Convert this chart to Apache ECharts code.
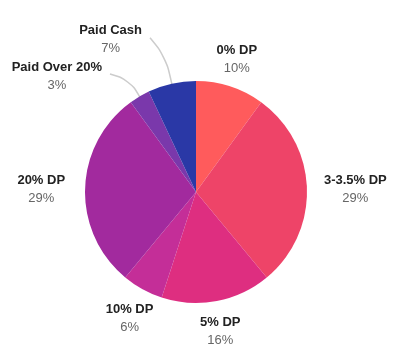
<!DOCTYPE html>
<html>
<head>
<meta charset="utf-8">
<style>html,body{margin:0;padding:0;background:#fff}#c{width:400px;height:358px}</style>
<script src="https://cdn.jsdelivr.net/npm/echarts@6/dist/echarts.min.js"></script>
</head>
<body>
<div id="c"></div>
<script>
const categories = ['0% DP', '3-3.5% DP', '5% DP', '10% DP', '20% DP', 'Paid Over 20%', 'Paid Cash'];
const values = [10, 29, 16, 6, 29, 3, 7];
const colors = ['#FF5B5C', '#EE4468', '#DE2E80', '#C42E98', '#A22A9E', '#7A38AB', '#2A38A6'];

const CX = 196, CY = 192, R = 111;
const total = values.reduce((a, b) => a + b, 0);
function midAngle(i) {
  let s = 0;
  for (let k = 0; k < i; k++) s += values[k];
  return (s + values[i] / 2) / total * 2 * Math.PI;
}
// leader-line placement for the small slices (angle shift in degrees, extra length)
const leader = { 5: { shift: -5.5, len: 35 }, 6: { shift: -4, len: 50 } };

const chart = echarts.init(document.getElementById('c'), null, { renderer: 'canvas' });
chart.setOption({
  animation: false,
  color: colors,
  series: [{
    type: 'pie',
    center: [CX, CY],
    radius: [0, R],
    startAngle: 90,
    clockwise: true,
    avoidLabelOverlap: false,
    data: categories.map((c, i) => ({
      name: c, value: values[i],
      labelLine: { show: !!leader[i] }
    })),
    itemStyle: { borderWidth: 0 },
    label: {
      show: true,
      position: 'outside',
      alignTo: 'none',
      overflow: 'none',
      edgeDistance: 0,
      bleedMargin: 0,
      padding: 0,
      formatter: '{n|{b}}\n{p|{c}%}',
      rich: {
        n: { fontFamily: 'Liberation Sans', fontWeight: 'bold', fontSize: 13, color: '#222', lineHeight: 18, align: 'center' },
        p: { fontFamily: 'Liberation Sans', fontSize: 13, color: '#666', lineHeight: 18, align: 'center' }
      }
    },
    labelLine: {
      show: false,
      smooth: 0.4,
      lineStyle: { color: '#cccccc', width: 1.5 }
    },
    emphasis: { disabled: true },
    labelLayout: function (params) {
      const i = params.dataIndex;
      const a = midAngle(i);
      const w = params.labelRect.width, h = params.labelRect.height;
      const vx = Math.sin(a), vy = -Math.cos(a);
      if (leader[i]) {
        const la = a + leader[i].shift * Math.PI / 180;
        const d = R + leader[i].len;
        const ex = CX + d * Math.sin(la), ey = CY - d * Math.cos(la);
        const sx = CX + (R - 1) * vx, sy = CY + (R - 1) * vy;
        const md = R + leader[i].len * 0.55;
        const mx = CX + md * vx, my = CY + md * vy;
        return {
          x: ex - 8 - w / 2, y: ey + 2, align: 'center', verticalAlign: 'middle',
          labelLinePoints: [[sx, sy], [mx, my], [ex, ey]]
        };
      }
      const ad = R + 14;
      const ax = CX + ad * vx, ay = CY + ad * vy;
      const vs = 1 / Math.max(Math.abs(vx), Math.abs(vy));
      const hw = w / 2 + 3;
      return {
        x: ax + vx * Math.abs(vx) * hw + (vx < -0.9 ? -3 : 0),
        y: ay + vy * vs * (h / 2) + (vy < 0 ? 2 : 1),
        align: 'center', verticalAlign: 'middle'
      };
    }
  }]
});
</script>
</body>
</html>
